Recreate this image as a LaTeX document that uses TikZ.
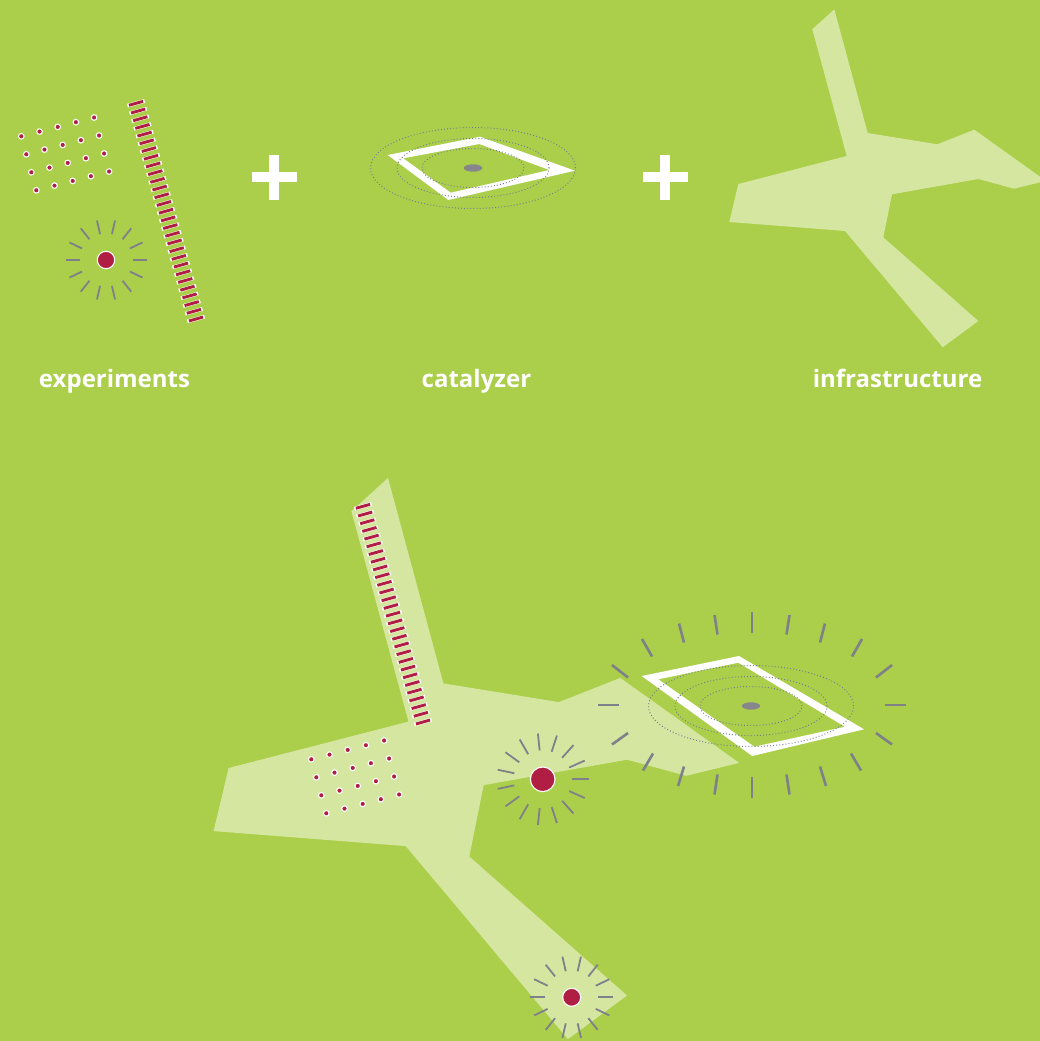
\documentclass[tikz,border=0pt]{standalone}
\usepackage{fontspec}
\setmainfont{Open Sans}
\definecolor{bg}{RGB}{171,207,74}
\definecolor{pale}{RGB}{213,230,160}
\definecolor{crim}{RGB}{176,30,68}
\definecolor{tick}{RGB}{126,128,138}
\definecolor{dotc}{RGB}{118,122,150}
\definecolor{blob}{RGB}{134,134,140}
\tikzset{
  ray/.style={draw=tick, line width=1.8pt},
  bigray/.style={draw=tick, line width=2.6pt},
  orbit/.style={draw=dotc, line width=1pt, dash pattern=on 0.9pt off 2.2pt},
  whiteframe/.style={fill=white, even odd rule},
  lbl/.style={text=white, font=\bfseries\fontsize{24}{24}\selectfont, anchor=base, inner sep=0pt},
  paleshape/.style={fill=pale},
  reddot/.style={fill=crim, draw=white, line width=1.1pt},
}
% sun: x, y, n rays, r in, r out, dot radius
\newcommand{\mysun}[6]{%
  \begin{scope}[shift={(#1,#2)}]
    \foreach \k in {1,...,#3}{\draw[ray] ({360/#3*\k}:#4) -- ({360/#3*\k}:#5);}
    \fill[reddot] (0,0) circle (#6pt);
  \end{scope}}
% ladder: top rung centre
\newcommand{\myladder}[2]{%
  \begin{scope}[shift={(#1,#2)}]
    \foreach \i in {0,...,28}{
      \pgfmathsetmacro\cx{60*\i/28}
      \pgfmathsetmacro\cy{215.7*\i/28}
      \draw[white, line width=3.8pt] ({\cx-8.6},{\cy+2.4}) -- ({\cx+8.6},{\cy-2.4});
      \draw[crim, line width=2.9pt] ({\cx-7.1},{\cy+1.98}) -- ({\cx+7.1},{\cy-1.98});
    }
  \end{scope}}
% dot grid: origin
\newcommand{\mygrid}[2]{%
  \begin{scope}[shift={(#1,#2)}]
    \foreach \r in {0,...,3}{\foreach \c in {0,...,4}{
      \fill[reddot] ({18.2*\c+5*\r},{-4.7*\c+18*\r}) circle (2.8pt);
    }}
  \end{scope}}
% orbits: centre
\newcommand{\myorbits}[2]{%
  \begin{scope}[shift={(#1,#2)}]
    \draw[orbit] (0,0) ellipse [x radius=102.5pt, y radius=40.5pt];
    \draw[orbit] (0,0) ellipse [x radius=76pt, y radius=29.5pt];
    \draw[orbit] (0,0) ellipse [x radius=51pt, y radius=19.5pt];
    \fill[blob] (0,0) ellipse [x radius=9.2pt, y radius=3.7pt];
  \end{scope}}
\begin{document}
\begin{tikzpicture}[x=1pt,y=-1pt]
  \useasboundingbox (0,0) rectangle (1040,1041);
  \fill[bg] (0,0) rectangle (1040,1041);
  \clip (0,0) rectangle (1040,1041);

  % ---------- top row ----------
  % experiments
  \mygrid{21.3}{136.3}
  \myladder{136}{103.3}
  \mysun{106}{260}{14}{26.5}{40.5}{8.7}
  \node[lbl] (lexp) at (114.5,387.3) {experiments};

  % plus signs
  \fill[white] (251.5,172) rectangle (296.5,182);
  \fill[white] (269,154.5) rectangle (279,199.5);
  \fill[white] (642.5,172) rectangle (687.5,182);
  \fill[white] (660,154.5) rectangle (670,199.5);

  % catalyzer
  \fill[whiteframe] (387.7,155) -- (480,136.7) -- (575,170.7) -- (448.3,200) -- cycle
                    (403.3,158.3) -- (479.3,144) -- (549.3,170) -- (450.7,192.7) -- cycle;
  \myorbits{473}{168}
  \node[lbl] (lcat) at (476.5,387.3) {catalyzer};

  % infrastructure
  \fill[paleshape] (834.3,9.3) -- (812.3,29.3) -- (846.7,156) -- (738.3,184) -- (729.3,222)
    -- (845,231) -- (942.7,347.3) -- (978.3,321) -- (883.3,237.3) -- (892,194.3)
    -- (978.3,179) -- (1014,188.7) -- (1045.9,180.9) -- (974.3,129.7) -- (937.3,144.3)
    -- (867.7,133) -- cycle;
  \node[lbl] (linf) at (897.5,387.3) {infrastructure};

  % ---------- combined ----------
  \fill[paleshape] (388,478) -- (351.4,511.2) -- (408.5,721.6) -- (228.6,768) -- (213.6,831.1)
    -- (405.7,846.1) -- (567.9,1039.1) -- (627,995.5) -- (469.3,856.5) -- (483.7,785.1)
    -- (627,759.7) -- (686.2,775.8) -- (739.2,762.9) -- (620.3,677.9) -- (558.9,702.1)
    -- (443.4,683.4) -- cycle;
  \myladder{363}{506.3}
  \mygrid{311.3}{759.3}
  \mysun{542.7}{779.3}{15}{29}{46}{12.3}
  \mysun{571.7}{997.3}{14}{26.7}{41.7}{9}

  % big catalyzer
  \fill[whiteframe] (641.7,676) -- (739,656) -- (864,729.3) -- (752.3,756) -- cycle
                    (658.3,679.3) -- (738.3,662.7) -- (845,726.7) -- (754.3,746.7) -- cycle;
  \myorbits{751}{706}
  \begin{scope}[shift={(752,705)}]
    \draw[bigray] (0,-93.3) -- (0,-72.3);
    \draw[bigray] (0,93.3) -- (0,72.3);
    \foreach \s in {1,-1}{
      \draw[bigray] ({\s*37.5},-90) -- ({\s*34.5},-70.5);
      \draw[bigray] ({\s*73},-81.5) -- ({\s*68},-62.5);
      \draw[bigray] ({\s*110},-66) -- ({\s*100},-48.5);
      \draw[bigray] ({\s*140},-40) -- ({\s*124},-27.5);
      \draw[bigray] ({\s*154},0) -- ({\s*133},0);
      \draw[bigray] ({\s*140},39.5) -- ({\s*124},28);
      \draw[bigray] ({\s*109},65.5) -- ({\s*99},48.5);
      \draw[bigray] ({\s*74},81) -- ({\s*68},61.5);
      \draw[bigray] ({\s*37.5},89.5) -- ({\s*34.5},69.5);
    }
  \end{scope}
\end{tikzpicture}
\end{document}
